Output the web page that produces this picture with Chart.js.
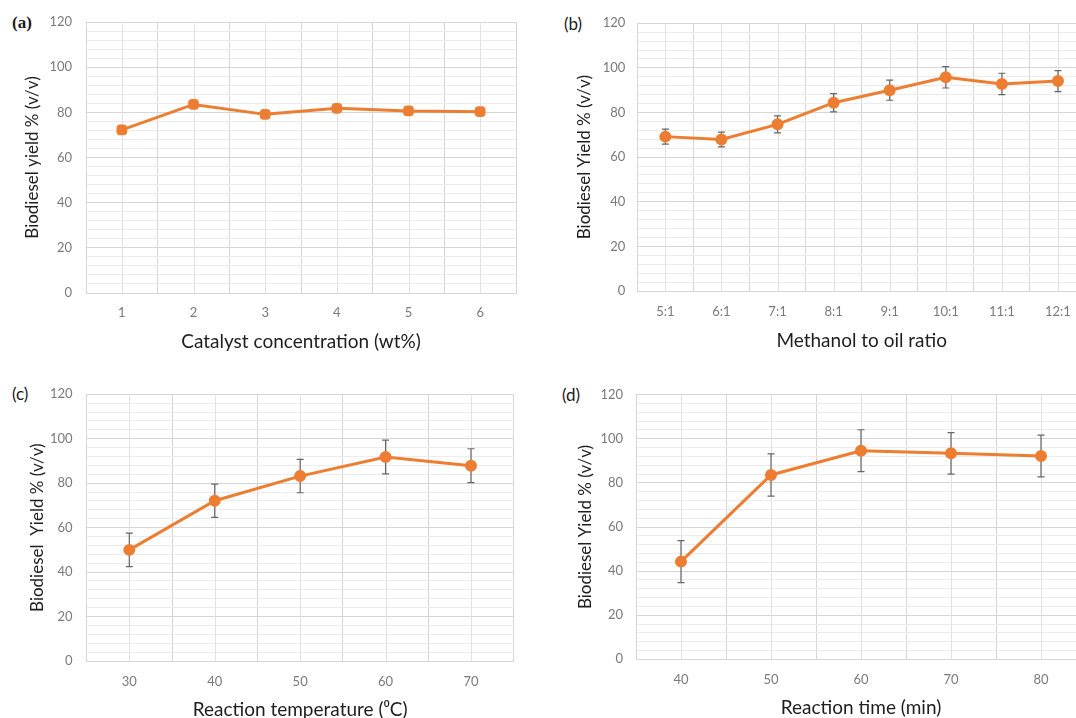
<!DOCTYPE html>
<html>
<head>
<meta charset="utf-8">
<script src="https://cdn.jsdelivr.net/npm/chart.js@4.4.1/dist/chart.umd.min.js"></script>
<style>
  html, body { margin: 0; padding: 0; background: #fff; overflow: hidden; width: 1076px; height: 718px; }
  canvas { position: absolute; }
  .lbl { position: absolute; font-size: 17px; color: #1a1a1a; line-height: 1; white-space: nowrap; }
</style>
</head>
<body>
<div class="lbl" style="left:12px; top:14px; font-family:'Liberation Serif',serif; font-weight:bold;">(a)</div>
<div class="lbl" style="left:564px; top:15px; font-family:Lato,sans-serif;">(b)</div>
<div class="lbl" style="left:12px; top:385px; font-family:Lato,sans-serif;">(c)</div>
<div class="lbl" style="left:562px; top:386px; font-family:Lato,sans-serif;">(d)</div>

<canvas id="cA" width="540" height="360" style="left:0px; top:0px;"></canvas>
<canvas id="cB" width="560" height="360" style="left:540px; top:0px;"></canvas>
<canvas id="cC" width="540" height="380" style="left:0px; top:360px;"></canvas>
<canvas id="cD" width="560" height="380" style="left:540px; top:360px;"></canvas>

<script>
// ---------- data ----------
const catA = ['1', '2', '3', '4', '5', '6'];
const yieldA = [72.2, 83.5, 79.1, 81.8, 80.6, 80.3];

const catB = ['5:1', '6:1', '7:1', '8:1', '9:1', '10:1', '11:1', '12:1'];
const yieldB = [69.2, 67.9, 74.7, 84.4, 90.0, 95.8, 92.8, 94.1];
const errB = [3.4, 3.3, 3.8, 4.1, 4.5, 4.8, 4.8, 4.7];

const catC = ['30', '40', '50', '60', '70'];
const yieldC = [50.0, 72.1, 83.2, 91.8, 87.9];
const errC = [7.5, 7.5, 7.5, 7.6, 7.6];

const catD = ['40', '50', '60', '70', '80'];
const yieldD = [44.3, 83.6, 94.6, 93.4, 92.2];
const errD = [9.5, 9.6, 9.5, 9.4, 9.5];

const yMin = 0, yMax = 120, yMinorStep = 4, yMajorStep = 20;

// ---------- styling ----------
const ORANGE = '#ED7D31';
const TICK_COLOR = '#7a7a7a';
const TITLE_COLOR = '#1e1e1e';
const MAJOR_GRID = '#d6d6d6';
const MINOR_GRID = '#ececec';
const FONT = 'Lato, "Open Sans", sans-serif';

const minorXGrid = {
  id: 'minorXGrid',
  beforeDatasetsDraw(chart) {
    const {ctx, chartArea} = chart;
    const xs = chart.scales.x;
    ctx.save();
    ctx.strokeStyle = '#e2e2e2';
    ctx.lineWidth = 1;
    const n = chart.data.labels.length;
    for (let i = 0; i < n; i++) {
      const px = Math.round(xs.getPixelForValue(i)) + 0.5;
      ctx.beginPath();
      ctx.moveTo(px, chartArea.top);
      ctx.lineTo(px, chartArea.bottom);
      ctx.stroke();
    }
    ctx.restore();
  }
};

const errorBars = {
  id: 'errorBars',
  beforeDatasetsDraw(chart, args, opts) {
    const errs = opts.errors;
    if (!errs) return;
    const {ctx} = chart;
    const xs = chart.scales.x, ys = chart.scales.y;
    const vals = chart.data.datasets[0].data;
    ctx.save();
    ctx.strokeStyle = '#666666';
    ctx.lineWidth = 1.2;
    for (let i = 0; i < vals.length; i++) {
      const px = xs.getPixelForValue(i);
      const top = ys.getPixelForValue(vals[i] + errs[i]);
      const bot = ys.getPixelForValue(vals[i] - errs[i]);
      ctx.beginPath();
      ctx.moveTo(px, top); ctx.lineTo(px, bot);
      ctx.moveTo(px - 3.5, top); ctx.lineTo(px + 3.5, top);
      ctx.moveTo(px - 3.5, bot); ctx.lineTo(px + 3.5, bot);
      ctx.stroke();
    }
    ctx.restore();
  }
};

function makeChart(id, labels, values, errors, g) {
  return new Chart(document.getElementById(id), {
    type: 'line',
    data: {
      labels: labels,
      datasets: [{
        data: values,
        borderColor: ORANGE,
        backgroundColor: ORANGE,
        borderWidth: 3,
        pointStyle: g.pointStyle || 'circle',
        pointRadius: 4.5,
        pointBackgroundColor: ORANGE,
        pointBorderColor: ORANGE,
        tension: 0,
        fill: false
      }]
    },
    options: {
      responsive: false,
      animation: false,
      devicePixelRatio: 1,
      layout: { padding: { top: g.padTop, right: g.padRight, left: 0, bottom: 0 } },
      plugins: {
        legend: { display: false },
        tooltip: { enabled: false },
        errorBars: { errors: errors }
      },
      scales: {
        x: {
          type: 'category',
          offset: true,
          grid: { offset: true, color: MAJOR_GRID, lineWidth: 1, drawTicks: false },
          border: { display: true, color: MAJOR_GRID },
          ticks: { color: TICK_COLOR, font: { family: FONT, size: 13 }, padding: g.xTickPad, maxRotation: 0, autoSkip: false },
          title: { display: true, text: g.xTitle, color: TITLE_COLOR, font: { family: FONT, size: 19 }, padding: { top: 0, bottom: g.xTitlePad } },
          afterFit(s) { s.height = g.xHeight; }
        },
        y: {
          min: yMin, max: yMax,
          grid: {
            drawTicks: false,
            color: (c) => (c.tick && c.tick.value % yMajorStep === 0) ? MAJOR_GRID : MINOR_GRID,
            lineWidth: 1
          },
          border: { display: true, color: MAJOR_GRID },
          ticks: {
            stepSize: yMinorStep,
            autoSkip: false,
            color: TICK_COLOR,
            font: { family: FONT, size: 13 },
            padding: g.yTickPad,
            callback: (v) => (v % yMajorStep === 0 ? String(v) : '')
          },
          title: { display: true, text: g.yTitle, color: TITLE_COLOR, font: { family: FONT, size: 17 }, padding: { top: g.yTitlePad, bottom: 0 } },
          afterFit(s) { s.width = g.yWidth; }
        }
      }
    },
    plugins: [minorXGrid, errorBars]
  });
}

makeChart('cA', catA, yieldA, null, {
  pointStyle: 'rectRounded',
  padTop: 22, padRight: 24, yWidth: 86, xHeight: 67,
  xTickPad: 12.2, yTickPad: 14, xTitlePad: 6.6, yTitlePad: 22.8,
  xTitle: 'Catalyst concentration (wt%)', yTitle: 'Biodiesel yield % (v/v)'
});
makeChart('cB', catB, yieldB, errB, {
  padTop: 23.3, padRight: 14, yWidth: 97.3, xHeight: 69,
  xTickPad: 13, yTickPad: 12, xTitlePad: 7.9, yTitlePad: 34.5,
  xTitle: 'Methanol to oil ratio', yTitle: 'Biodiesel Yield % (v/v)'
});
makeChart('cC', catC, yieldC, errC, {
  padTop: 34.3, padRight: 26.3, yWidth: 86.6, xHeight: 79,
  xTickPad: 12.7, yTickPad: 14, xTitlePad: 18.6, yTitlePad: 27.8,
  xTitle: 'Reaction temperature (\u2070C)', yTitle: 'Biodiesel  Yield % (v/v)'
});
makeChart('cD', catD, yieldD, errD, {
  padTop: 34.7, padRight: 14, yWidth: 96, xHeight: 80.7,
  xTickPad: 12.7, yTickPad: 13, xTitlePad: 20.6, yTitlePad: 35.3,
  xTitle: 'Reaction time (min)', yTitle: 'Biodiesel Yield % (v/v)'
});
</script>
</body>
</html>
